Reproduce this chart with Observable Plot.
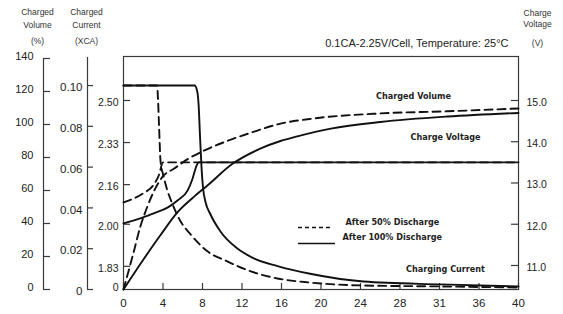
<!DOCTYPE html>
<html><head><meta charset="utf-8">
<script src="https://cdn.jsdelivr.net/npm/d3@7"></script>
<script src="https://cdn.jsdelivr.net/npm/@observablehq/plot@0.6"></script>
<style>body{margin:0;background:#fff} svg{display:block}</style>
</head><body><div id="chart"></div>
<script>
// ---- tick values / labels ----
const hourTicks = [0, 4, 8, 12, 16, 20, 24, 28, 32, 36, 40];
const hourLabels = ["0", "4", "8", "12", "16", "20", "24", "28", "31", "36", "40"];
const volumeTicks = [0, 20, 40, 60, 80, 100, 120, 140];
const currentTicks = [0, 0.02, 0.04, 0.06, 0.08, 0.10];
const currentLabels = ["0", "0.02", "0.04", "0.06", "0.08", "0.10"];
const cellVoltTicks = [1.83, 2.00, 2.16, 2.33, 2.50];
const voltTicks = [11.0, 12.0, 13.0, 14.0, 15.0];

// ---- series (hours, value) ----
// Charging current (CA)
const curFullT = [0, 7.2, 7.45, 7.6, 7.75, 7.9, 8.05, 8.3, 8.8, 9.8, 11.5, 13.2, 15.6, 18.9, 24.3, 32.1, 40];
const curFullC = [0.1, 0.1, 0.0975, 0.0911, 0.075, 0.06, 0.05, 0.043, 0.0369, 0.0286, 0.0202, 0.0153, 0.0115, 0.0077, 0.0039, 0.0025, 0.0015];
const curHalfT = [0, 3.4, 3.5, 3.6, 3.75, 4.05, 4.46, 4.96, 5.77, 6.78, 8.5, 10.5, 12.9, 15.6, 18.9, 24, 32, 40];
const curHalfC = [0.1, 0.1, 0.0926, 0.0803, 0.063, 0.0557, 0.0483, 0.0419, 0.0335, 0.0271, 0.0187, 0.0138, 0.0089, 0.0054, 0.0034, 0.002, 0.0015, 0.001];
// Charge voltage (V)
const voltFullT = [0, 1.7, 3.0, 4.5, 5.5, 6.5, 7.0, 7.4, 7.6, 40];
const voltFullV = [12.02, 12.14, 12.26, 12.41, 12.58, 12.82, 13.11, 13.42, 13.5, 13.5];
const voltHalfT = [0, 2.0, 3.0, 3.6, 4.0, 40];
const voltHalfV = [12.53, 12.75, 12.94, 13.2, 13.5, 13.5];
// Charged volume (%)
const volFullT = [0, 2.0, 3.75, 5.5, 7.1, 8.5, 11.0, 13.9, 15.9, 17.6, 21, 26, 32.8, 40];
const volFullP = [0, 18, 33, 47, 56, 63, 76, 85.5, 90, 92.8, 97.5, 101.5, 104.8, 107];
const volHalfT = [0, 1.0, 1.7, 2.4, 3.2, 4.05, 5.06, 6.5, 8.1, 10.5, 12.9, 15.9, 19.2, 26, 32.8, 40];
const volHalfP = [0, 22, 38, 50, 61, 69, 73, 79, 84, 90, 95, 100.5, 103.6, 106.7, 108, 109.7];

// ---- map secondary axes onto the shared (volume %) y scale ----
const vCur = c => c * 1236;
const vVolt = V => 25 * V - 260.45;

const W = 563, H = 314;
const mL = 123, mR = 45, mT = 56, mB = 25;
const fw = W - mL - mR, fh = H - mT - mB;
const ink = "#111";
const axisInk = "#3a3a3a";
const sans = "Liberation Sans, Arial, sans-serif";
const cond = "DejaVu Sans Condensed, DejaVu Sans, sans-serif";

const rows = (ts, vs, f) => ts.map((t, i) => ({t, v: f(vs[i])}));
const id = d => d;

const lineOpts = {x: "t", y: "v", stroke: ink, strokeWidth: 1.9, curve: "monotone-x"};
const dash = {strokeDasharray: "8,5"};
const note = (txt, anchor, dx, dy, extra = {}) =>
  Plot.text([txt], {frameAnchor: anchor, textAnchor: "middle", lineAnchor: "middle", dx, dy, fontSize: 8.5, fontFamily: sans, fill: "#333", ...extra});
const bold = {fontSize: 9, fontWeight: "bold", fontFamily: cond, fill: "#222"};

const marks = [
  Plot.frame({stroke: axisInk, strokeWidth: 1.2}),
  // extra left axes
  Plot.ruleX([0], {y1: 0, y2: 140, dx: -80, stroke: axisInk, strokeWidth: 1.2}),
  Plot.ruleX([0], {y1: 0, y2: 140.6, dx: -36, stroke: axisInk, strokeWidth: 1.2}),
  // ticks
  Plot.ruleY(volumeTicks, {y: id, dx: -80, insetRight: fw - 7, stroke: axisInk, strokeWidth: 1.2}),
  Plot.ruleY(currentTicks, {y: vCur, dx: -36, insetRight: fw - 6, stroke: axisInk, strokeWidth: 1.2}),
  Plot.ruleY(cellVoltTicks, {y: d => vVolt(d * 6), insetRight: fw - 7, stroke: axisInk, strokeWidth: 1.2}),
  Plot.ruleY(voltTicks, {y: vVolt, insetLeft: fw - 7, stroke: axisInk, strokeWidth: 1.2}),
  Plot.ruleX(hourTicks, {x: id, insetTop: fh - 6, stroke: axisInk, strokeWidth: 1.2}),
  // tick labels
  Plot.text(volumeTicks, {y: id, text: d => String(d), frameAnchor: "left", textAnchor: "end", lineAnchor: "middle", dx: -90, dy: -2, fontSize: 11, fontFamily: sans, fill: "#222"}),
  Plot.text(currentTicks, {y: vCur, text: (d, i) => currentLabels[i], frameAnchor: "left", textAnchor: "end", lineAnchor: "middle", dx: -41, dy: 2, fontSize: 11.5, fontFamily: sans, fill: "#222"}),
  Plot.text(cellVoltTicks, {y: d => vVolt(d * 6), text: d => d.toFixed(2), frameAnchor: "left", textAnchor: "end", lineAnchor: "middle", dx: -5, dy: 2, fontSize: 10.5, fontFamily: sans, fill: "#222"}),
  Plot.text(["0"], {frameAnchor: "bottom-left", textAnchor: "end", lineAnchor: "middle", dx: -5, dy: -2, fontSize: 10.5, fontFamily: sans, fill: "#222"}),
  Plot.text(voltTicks, {y: vVolt, text: d => d.toFixed(1), frameAnchor: "right", textAnchor: "start", lineAnchor: "middle", dx: 8, dy: 2, fontSize: 10.5, fontFamily: sans, fill: "#222"}),
  Plot.text(hourTicks, {x: id, text: d => hourLabels[hourTicks.indexOf(d)], frameAnchor: "bottom", textAnchor: "middle", lineAnchor: "middle", dy: 14, fontSize: 11.5, fontFamily: sans, fill: "#222"}),
  // axis titles
  note("Charged", "top-left", -86, -44),
  note("Volume", "top-left", -86, -31),
  note("(%)", "top-left", -86, -15),
  note("Charged", "top-left", -37, -44),
  note("Current", "top-left", -37, -31),
  note("(XCA)", "top-left", -37, -15),
  note("Charge", "top-right", 19, -43),
  note("Voltage", "top-right", 19, -32),
  note("(V)", "top-right", 19, -13),
  Plot.text(["0.1CA-2.25V/Cell, Temperature: 25°C"], {frameAnchor: "top-right", textAnchor: "end", lineAnchor: "middle", dx: -10, dy: -13, fontSize: 11, fontFamily: sans, fill: "#222"}),
  // curves (dashed: after 50% discharge, solid: after 100% discharge)
  Plot.line(rows(curHalfT, curHalfC, vCur), {...lineOpts, ...dash}),
  Plot.line(rows(voltHalfT, voltHalfV, vVolt), {...lineOpts, ...dash}),
  Plot.line(rows(volHalfT, volHalfP, id), {...lineOpts, ...dash}),
  Plot.line(rows(curFullT, curFullC, vCur), lineOpts),
  Plot.line(rows(voltFullT, voltFullV, vVolt), lineOpts),
  Plot.line(rows(volFullT, volFullP, id), lineOpts),
  // curve labels
  Plot.text(["Charged Volume"], {frameAnchor: "top-left", textAnchor: "middle", lineAnchor: "middle", dx: 290, dy: 40, ...bold}),
  Plot.text(["Charge Voltage"], {frameAnchor: "top-left", textAnchor: "middle", lineAnchor: "middle", dx: 322, dy: 81, ...bold}),
  Plot.text(["Charging Current"], {frameAnchor: "top-left", textAnchor: "middle", lineAnchor: "middle", dx: 322, dy: 213, ...bold}),
  // legend
  Plot.ruleY([0], {dy: -62, insetLeft: 175, insetRight: 186, stroke: ink, strokeWidth: 1.3, strokeDasharray: "4,3"}),
  Plot.ruleY([0], {dy: -46, insetLeft: 175, insetRight: 183, stroke: ink, strokeWidth: 1.3}),
  Plot.text(["After 50% Discharge"], {frameAnchor: "top-left", textAnchor: "start", lineAnchor: "middle", dx: 222, dy: 166, ...bold}),
  Plot.text(["After 100% Discharge"], {frameAnchor: "top-left", textAnchor: "start", lineAnchor: "middle", dx: 219, dy: 181, ...bold})
];

const chart = Plot.plot({
  width: W, height: H,
  marginLeft: mL, marginRight: mR, marginTop: mT, marginBottom: mB,
  x: {domain: [0, 40], axis: null},
  y: {domain: [0, 141.2], axis: null},
  style: {background: "#fff", overflow: "visible"},
  marks
});
document.getElementById("chart").appendChild(chart);
</script>
</body></html>
